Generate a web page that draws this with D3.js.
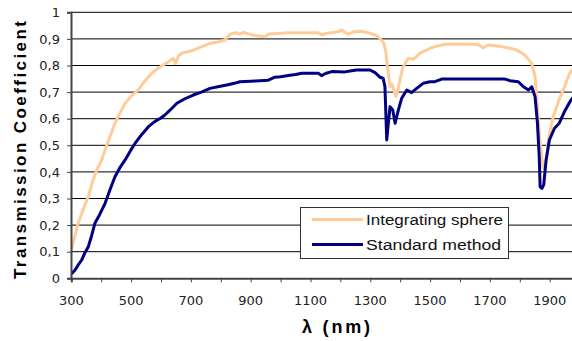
<!DOCTYPE html>
<html><head><meta charset="utf-8">
<script src="https://cdn.jsdelivr.net/npm/d3@7"></script>
<style>html,body{margin:0;padding:0;background:#fff;overflow:hidden}</style>
</head><body>
<svg id="c" width="572" height="341"></svg>
<script>
const sphereLambda = [300,310,323,340,357,370,385,400,413,430,446,462,480,500,524,545,569,590,613,630,641,649,658,669,690,708,735,764,790,814,831,845,853,865,875,887,905,920,935,948,959,990,1026,1080,1126,1137,1150,1193,1204,1215,1226,1240,1260,1277,1299,1320,1332,1345,1352,1360,1366,1372,1378,1386,1393,1399,1408,1416,1427,1444,1466,1483,1500,1516,1550,1594,1630,1661,1678,1695,1739,1767,1790,1817,1840,1851,1859,1867,1877,1883,1890,1895,1912,1929,1945,1967,1980];
const sphereValues = [0.106,0.15,0.207,0.26,0.307,0.36,0.407,0.44,0.482,0.535,0.583,0.62,0.658,0.685,0.708,0.74,0.771,0.79,0.806,0.818,0.827,0.808,0.835,0.846,0.852,0.858,0.87,0.883,0.888,0.896,0.918,0.922,0.923,0.918,0.925,0.92,0.915,0.912,0.91,0.908,0.918,0.92,0.923,0.923,0.923,0.915,0.92,0.927,0.933,0.925,0.918,0.925,0.929,0.927,0.921,0.913,0.902,0.885,0.85,0.77,0.72,0.73,0.71,0.683,0.71,0.745,0.79,0.808,0.827,0.823,0.846,0.855,0.865,0.871,0.88,0.88,0.88,0.879,0.867,0.877,0.871,0.865,0.858,0.839,0.808,0.758,0.645,0.52,0.42,0.41,0.46,0.52,0.608,0.664,0.708,0.771,0.79];
const standardLambda = [300,312,323,335,345,357,368,379,395,413,430,446,462,480,497,513,535,558,580,597,613,630,653,680,708,735,764,790,820,845,864,900,931,959,981,1000,1026,1050,1071,1126,1137,1150,1171,1215,1232,1254,1299,1316,1332,1343,1349,1355,1360,1366,1375,1383,1394,1405,1422,1438,1455,1477,1500,1516,1539,1594,1700,1750,1767,1795,1812,1829,1840,1851,1859,1865,1868,1874,1880,1888,1899,1916,1932,1949,1971,1985];
const standardValues = [0.016,0.03,0.05,0.069,0.095,0.119,0.16,0.207,0.24,0.282,0.335,0.382,0.415,0.445,0.478,0.507,0.54,0.57,0.59,0.601,0.614,0.632,0.658,0.675,0.689,0.7,0.714,0.72,0.727,0.733,0.739,0.741,0.743,0.745,0.756,0.758,0.762,0.766,0.771,0.771,0.762,0.77,0.777,0.776,0.779,0.783,0.783,0.773,0.756,0.752,0.72,0.52,0.58,0.645,0.633,0.583,0.633,0.677,0.708,0.698,0.714,0.733,0.739,0.739,0.749,0.749,0.749,0.749,0.743,0.739,0.72,0.708,0.72,0.683,0.583,0.457,0.344,0.338,0.351,0.445,0.52,0.564,0.583,0.626,0.67,0.69];
const yTicks = [0,0.1,0.2,0.3,0.4,0.5,0.6,0.7,0.8,0.9,1];
const xTickValues = [300,400,500,600,700,800,900,1000,1100,1200,1300,1400,1500,1600,1700,1800,1900,2000];
const xLabelValues = [300,500,700,900,1100,1300,1500,1700,1900];
const seriesNames = ["Integrating sphere","Standard method"];
const seriesColors = ["#FFCC99","#000080"];

const svg = d3.select("#c");
const x = d3.scaleLinear().domain([300,2000]).range([71.3, 579.6]);
const y = d3.scaleLinear().domain([0,1]).range([278.3, 12.3]);
const fmt = v => (v===0||v===1) ? String(v) : String(v).replace(".", ",");

// gridlines
svg.append("g").selectAll("line").data(yTicks.filter(d=>d>0)).join("line")
  .attr("x1", 71).attr("x2", 572).attr("y1", d=>y(d)).attr("y2", d=>y(d))
  .attr("stroke", "#000").attr("stroke-width", 1);

// clip
svg.append("defs").append("clipPath").attr("id","pc").append("rect")
  .attr("x",71).attr("y",0).attr("width",501).attr("height",279);

const line = d3.line().x(d=>x(d[0])).y(d=>y(d[1]));
const series = [d3.zip(sphereLambda, sphereValues), d3.zip(standardLambda, standardValues)];
svg.append("g").attr("clip-path","url(#pc)").selectAll("path").data(series).join("path")
  .attr("d", line).attr("fill","none")
  .attr("stroke",(d,i)=>seriesColors[i]).attr("stroke-width",3)
  .attr("stroke-linejoin","round");

// y axis
const yAxis = d3.axisLeft(y).tickValues(yTicks).tickSize(4).tickPadding(7).tickFormat(fmt);
const gy = svg.append("g").attr("transform","translate(71,0)").call(yAxis);
gy.select(".domain").attr("stroke","#444").attr("stroke-width",2);
gy.selectAll(".tick line").attr("stroke","#444");
gy.selectAll("text").attr("font-family","'DejaVu Sans', sans-serif").attr("font-size",13).attr("fill","#222");

// x axis
const xAxis = d3.axisBottom(x).tickValues(xTickValues).tickSize(4).tickFormat(()=>"");
const gx = svg.append("g").attr("transform","translate(0,278.3)").call(xAxis);
gx.select(".domain").attr("stroke","#444").attr("stroke-width",2);
gx.selectAll(".tick line").attr("stroke","#444");
svg.append("g").selectAll("text").data(xLabelValues).join("text")
  .attr("x", d=>x(d)).attr("y", 305).attr("text-anchor","middle")
  .attr("font-family","'DejaVu Sans', sans-serif").attr("font-size",13).attr("fill","#222")
  .text(d=>d);

// titles
svg.append("text").attr("transform","translate(26,150) rotate(-90)")
  .attr("text-anchor","middle").attr("font-family","'Liberation Sans', Arial, sans-serif")
  .attr("font-weight","bold").attr("font-size",17).attr("fill","#000")
  .attr("textLength",258).attr("lengthAdjust","spacing")
  .text("Transmission Coefficient");
svg.append("text").attr("x",336).attr("y",333)
  .attr("text-anchor","middle").attr("font-family","'Liberation Sans', Arial, sans-serif")
  .attr("font-weight","bold").attr("font-size",18).attr("fill","#000")
  .attr("textLength",68).attr("lengthAdjust","spacing")
  .text("λ (nm)");

// legend
const lg = svg.append("g");
lg.append("rect").attr("x",300.5).attr("y",207.5).attr("width",208).attr("height",51)
  .attr("fill","#fff").attr("stroke","#333").attr("stroke-width",1);
const rows = lg.selectAll("g.row").data(seriesNames).join("g").attr("class","row")
  .attr("transform",(d,i)=>`translate(0,${219.5 + i*25})`);
rows.append("line").attr("x1",312).attr("x2",363).attr("stroke",(d,i)=>seriesColors[i]).attr("stroke-width",3);
rows.append("text").attr("x",366).attr("y",5).attr("font-family","'Liberation Sans', Arial, sans-serif")
  .attr("font-size",14).attr("fill","#111")
  .attr("textLength",(d,i)=>i===0?137:135).attr("lengthAdjust","spacingAndGlyphs")
  .text(d=>d);
</script>
</body></html>
